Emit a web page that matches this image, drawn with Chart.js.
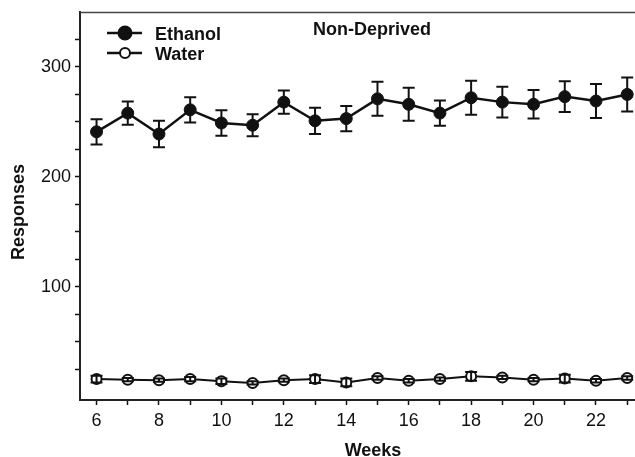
<!DOCTYPE html>
<html>
<head>
<meta charset="utf-8">
<script src="https://cdn.jsdelivr.net/npm/chart.js@4.4.0/dist/chart.umd.min.js"></script>
<style>
  html, body { margin: 0; padding: 0; background: #fff; }
  #wrap { width: 635px; height: 457px; position: relative; }
</style>
</head>
<body>
<div id="wrap"><canvas id="c" width="635" height="457"></canvas></div>
<script>
const weeks = [6, 7, 8, 9, 10, 11, 12, 13, 14, 15, 16, 17, 18, 19, 20, 21, 22, 23];
const ethanolMean = [241, 258, 239, 261, 249, 247, 268, 251, 253, 271, 266, 258, 272, 268, 266, 273, 269, 275];
const ethanolErr  = [11.5, 10.5, 12, 11.5, 11.5, 10, 10.5, 12, 11.5, 15.5, 15, 11.5, 15.5, 14, 13, 14, 15.5, 15.5];
const waterMean = [16, 15.5, 15, 16, 14, 12.5, 15, 16, 13, 17, 14.5, 16, 18.5, 17.5, 15.5, 16.5, 14.5, 17];
const waterErr  = [3, 1.5, 1.5, 2, 2.5, 1.5, 1.5, 3.5, 3.5, 1.5, 1.5, 1.5, 4, 1.5, 1.5, 3.5, 1.5, 1.5];
const yTickValues = [25, 50, 75, 100, 125, 150, 175, 200, 225, 250, 275, 300, 325];
const yLabelValues = [100, 200, 300];
const xLabelValues = [6, 8, 10, 12, 14, 16, 18, 20, 22];
const seriesNames = ['Ethanol', 'Water'];
const chartTitle = 'Non-Deprived';
const xTitle = 'Weeks';
const yTitle = 'Responses';

const FONT = "'Liberation Sans', Arial, Helvetica, sans-serif";
const INK = '#111';

const errorBars = {
  id: 'errorBars',
  afterDatasetsDraw(chart) {
    const ctx = chart.ctx, xs = chart.scales.x, ys = chart.scales.y;
    const sets = [[ethanolMean, ethanolErr], [waterMean, waterErr]];
    ctx.save();
    ctx.strokeStyle = INK;
    ctx.lineWidth = 2;
    sets.forEach(([m, e]) => {
      weeks.forEach((w, i) => {
        const x = xs.getPixelForValue(w);
        const y1 = ys.getPixelForValue(m[i] + e[i]);
        const y2 = ys.getPixelForValue(m[i] - e[i]);
        ctx.beginPath();
        ctx.moveTo(x, y1); ctx.lineTo(x, y2);
        ctx.moveTo(x - 6, y1); ctx.lineTo(x + 6, y1);
        ctx.moveTo(x - 6, y2); ctx.lineTo(x + 6, y2);
        ctx.stroke();
      });
    });
    ctx.restore();
  }
};

const decor = {
  id: 'decor',
  afterDraw(chart) {
    const ctx = chart.ctx, a = chart.chartArea;
    ctx.save();
    ctx.strokeStyle = '#444';
    ctx.lineWidth = 1.5;
    ctx.beginPath();
    ctx.moveTo(a.left, a.top + 0.5);
    ctx.lineTo(a.right, a.top + 0.5);
    ctx.stroke();
    ctx.fillStyle = INK;
    ctx.font = "bold 18px " + FONT;
    ctx.textBaseline = 'alphabetic';
    ctx.textAlign = 'left';
    ctx.fillText(chartTitle, 313, 35);
    // axis titles
    ctx.textAlign = 'center';
    ctx.fillText(xTitle, 373, 456);
    ctx.save();
    ctx.translate(24, 212);
    ctx.rotate(-Math.PI / 2);
    ctx.fillText(yTitle, 0, 0);
    ctx.restore();
    ctx.textAlign = 'left';
    const rows = [
      { y: 33, fill: INK, r: 6.5, name: seriesNames[0] },
      { y: 53, fill: '#fff', r: 5, name: seriesNames[1] }
    ];
    rows.forEach(row => {
      ctx.strokeStyle = INK;
      ctx.lineWidth = 2.5;
      ctx.beginPath();
      ctx.moveTo(107, row.y); ctx.lineTo(142, row.y);
      ctx.stroke();
      ctx.beginPath();
      ctx.arc(125, row.y, row.r, 0, Math.PI * 2);
      ctx.fillStyle = row.fill;
      ctx.fill();
      ctx.lineWidth = 2;
      ctx.stroke();
      ctx.fillStyle = INK;
      ctx.font = "bold 18px " + FONT;
      ctx.fillText(row.name, 155, row.y + 7);
    });
    ctx.restore();
  }
};

new Chart(document.getElementById('c'), {
  type: 'line',
  data: {
    datasets: [
      {
        label: seriesNames[0],
        data: weeks.map((w, i) => ({ x: w, y: ethanolMean[i] })),
        borderColor: INK, borderWidth: 2.5,
        pointBackgroundColor: INK, pointBorderColor: INK,
        pointRadius: 6, pointBorderWidth: 1,
        tension: 0, clip: false
      },
      {
        label: seriesNames[1],
        data: weeks.map((w, i) => ({ x: w, y: waterMean[i] })),
        borderColor: INK, borderWidth: 2,
        pointBackgroundColor: '#fff', pointBorderColor: INK,
        pointRadius: 5, pointBorderWidth: 2,
        tension: 0, clip: false
      }
    ]
  },
  options: {
    responsive: false,
    animation: false,
    layout: { autoPadding: false, padding: { top: 12, right: 0, left: 0, bottom: 0 } },
    plugins: { legend: { display: false }, tooltip: { enabled: false } },
    scales: {
      x: {
        type: 'linear', min: 5.47, max: 23.25,
        afterBuildTicks: ax => { ax.ticks = weeks.map(v => ({ value: v })); },
        afterFit: ax => { ax.height = 57; ax.paddingLeft = 0; ax.paddingRight = 0; },
        ticks: {
          autoSkip: false, maxRotation: 0, padding: 5,
          color: INK, font: { family: FONT, size: 18 },
          callback: v => xLabelValues.includes(v) ? String(v) : ''
        },
        grid: { drawOnChartArea: false, drawTicks: true, tickLength: 5, color: INK, tickWidth: 1.5 },
        border: { display: true, color: '#222', width: 2 },
        title: { display: false }
      },
      y: {
        type: 'linear', min: -3, max: 350,
        afterBuildTicks: ax => { ax.ticks = yTickValues.map(v => ({ value: v })); },
        afterFit: ax => { ax.width = 80; ax.paddingTop = 0; ax.paddingBottom = 0; },
        ticks: {
          autoSkip: false, padding: 4,
          color: INK, font: { family: FONT, size: 18 },
          callback: v => yLabelValues.includes(v) ? String(v) : ''
        },
        grid: { drawOnChartArea: false, drawTicks: true, tickLength: 5, color: INK, tickWidth: 1.5 },
        border: { display: true, color: '#222', width: 2 },
        title: { display: false }
      }
    }
  },
  plugins: [errorBars, decor]
});
</script>
</body>
</html>
